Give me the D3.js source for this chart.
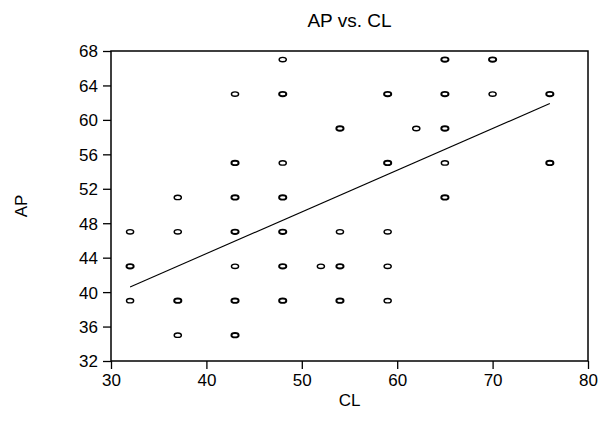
<!DOCTYPE html>
<html lang="en">
<head>
    <meta charset="UTF-8">
    <title>AP vs. CL</title>
    <script src="https://cdn.jsdelivr.net/npm/d3@7"></script>
    <style>
        body, html {
            margin: 0;
            padding: 0;
            background: #fff;
            overflow: hidden;
        }
        text {
            font-family: "Liberation Sans", Arial, sans-serif;
            fill: #000;
        }
    </style>
</head>
<body>
    <svg id="chart" width="602" height="430"></svg>
    <script>
        const clVals = [32, 32, 32, 37, 37, 37, 37, 43, 43, 43, 43, 43, 43, 43,
            48, 48, 48, 48, 48, 48, 48, 52, 54, 54, 54, 54, 59, 59, 59, 59, 59,
            62, 65, 65, 65, 65, 65, 70, 70, 76, 76];
        const apVals = [47, 43, 39, 51, 47, 39, 35, 63, 55, 51, 47, 43, 39, 35,
            67, 63, 55, 51, 47, 43, 39, 43, 59, 47, 43, 39, 63, 55, 47, 43, 39,
            59, 67, 63, 59, 55, 51, 67, 63, 63, 55];
        const counts = [1, 2, 1, 1, 1, 2, 1, 1, 2, 2, 2, 1, 2, 2,
            1, 2, 1, 2, 2, 2, 2, 1, 2, 1, 2, 2, 2, 2, 1, 1, 1,
            1, 2, 2, 2, 1, 2, 2, 1, 2, 2];

        // fitted line end points
        const fitX = [32, 76];
        const fitY = [40.6, 61.9];

        const xTicks = [30, 40, 50, 60, 70, 80];
        const yTicks = [32, 36, 40, 44, 48, 52, 56, 60, 64, 68];

        const svg = d3.select("#chart");
        const plotL = 111, plotR = 588, plotT = 51, plotB = 361;
        const fontStack = '"Liberation Sans", Arial, sans-serif';

        const x = d3.scaleLinear().domain([30, 80]).range([plotL, plotR]);
        const y = d3.scaleLinear().domain([32, 68]).range([plotB, plotT]);

        // axes
        const xAxis = svg.append("g")
            .attr("transform", `translate(0,${plotB})`)
            .call(d3.axisBottom(x).tickValues(xTicks).tickSize(8).tickPadding(3));
        const yAxis = svg.append("g")
            .attr("transform", `translate(${plotL},0)`)
            .call(d3.axisLeft(y).tickValues(yTicks).tickSize(8).tickPadding(5));

        [xAxis, yAxis].forEach(g => {
            g.attr("font-family", fontStack).attr("font-size", 17);
            g.select(".domain").remove();
            g.selectAll("line").attr("stroke", "#000").attr("stroke-width", 1.3);
            g.selectAll("text").attr("fill", "#000");
        });
        xAxis.selectAll("text").attr("dy", "0.85em");
        yAxis.selectAll("text").attr("dy", "0.35em");

        // frame
        svg.append("rect")
            .attr("x", plotL)
            .attr("y", plotT)
            .attr("width", plotR - plotL)
            .attr("height", plotB - plotT)
            .attr("fill", "none")
            .attr("stroke", "#000")
            .attr("stroke-width", 1.5);

        // fitted line
        const line = d3.line().x(d => x(d[0])).y(d => y(d[1]));
        svg.append("path")
            .datum(fitX.map((v, i) => [v, fitY[i]]))
            .attr("d", line)
            .attr("fill", "none")
            .attr("stroke", "#000")
            .attr("stroke-width", 1.1);

        // points
        const pts = clVals.map((v, i) => ({ cl: v, ap: apVals[i], n: counts[i] }));
        svg.append("g")
            .selectAll("ellipse")
            .data(pts)
            .enter().append("ellipse")
            .attr("cx", d => x(d.cl))
            .attr("cy", d => y(d.ap))
            .attr("rx", 3.6)
            .attr("ry", 2.2)
            .attr("fill", "none")
            .attr("stroke", "#000")
            .attr("stroke-width", d => d.n > 1 ? 1.9 : 1.4);

        // titles
        svg.append("text")
            .attr("x", (plotL + plotR) / 2)
            .attr("y", 27)
            .attr("text-anchor", "middle")
            .attr("font-size", 19)
            .text("AP vs. CL");

        svg.append("text")
            .attr("x", (plotL + plotR) / 2)
            .attr("y", 406)
            .attr("text-anchor", "middle")
            .attr("font-size", 17)
            .text("CL");

        svg.append("text")
            .attr("transform", `translate(27,${(plotT + plotB) / 2}) rotate(-90)`)
            .attr("text-anchor", "middle")
            .attr("font-size", 17)
            .text("AP");
    </script>
</body>
</html>
